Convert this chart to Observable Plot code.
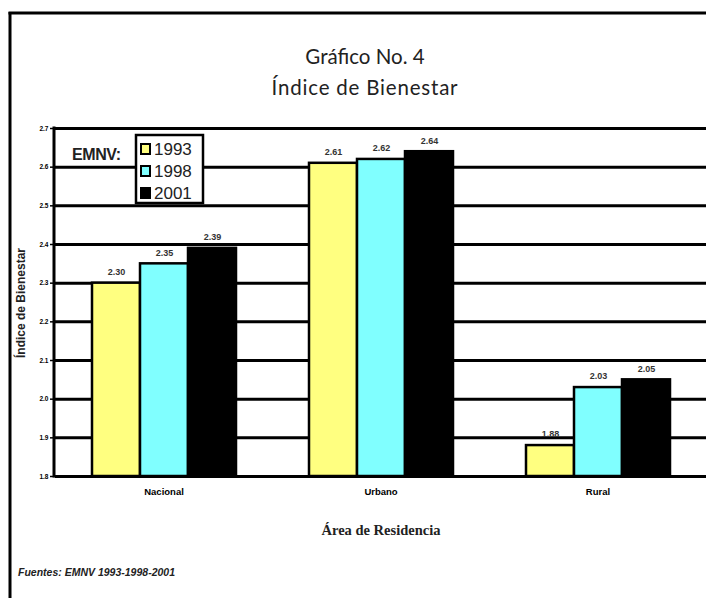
<!DOCTYPE html>
<html>
<head>
<meta charset="utf-8">
<script src="https://cdn.jsdelivr.net/npm/d3@7"></script>
<script src="https://cdn.jsdelivr.net/npm/@observablehq/plot@0.6"></script>
<style>
  html, body { margin: 0; padding: 0; background: #fff; }
  #chart { width: 706px; height: 598px; overflow: hidden; }
</style>
</head>
<body>
<div id="chart"></div>
<script>
// ---- data ----
const areas = ["Nacional", "Urbano", "Rural"];
const years = ["1993", "1998", "2001"];
const v1993 = [2.30, 2.61, 1.88];
const v1998 = [2.35, 2.62, 2.03];
const v2001 = [2.39, 2.64, 2.05];
const yTicks = [1.8, 1.9, 2.0, 2.1, 2.2, 2.3, 2.4, 2.5, 2.6, 2.7];
const titleText = "Gráfico No. 4";
const subtitleText = "Índice de Bienestar";
const yLabelText = "Índice de Bienestar";
const xLabelText = "Área de Residencia";
const legendTitle = "EMNV:";
const sourceText = "Fuentes: EMNV 1993-1998-2001";

const series = [v1993, v1998, v2001];
const data = [];
areas.forEach((a, i) => years.forEach((y, j) => data.push({area: a, year: y, value: series[j][i]})));

const W = 706, H = 598;
const mL = 54, mT = 128, mB = 122, mR = 0;

const svg = Plot.plot({
  width: W,
  height: H,
  marginLeft: mL,
  marginTop: mT,
  marginBottom: mB,
  marginRight: mR,
  style: {fontFamily: "'Liberation Sans', Arial, sans-serif", background: "#fff", color: "#000"},
  fx: {domain: areas, padding: 0, label: null},
  x: {domain: years, paddingInner: 0, paddingOuter: 0.75, axis: null},
  y: {domain: [1.8, 2.7], label: null},
  color: {domain: years, range: ["#ffff80", "#80ffff", "#000000"]},
  marks: [
    Plot.ruleY(yTicks, {stroke: "#000", strokeWidth: 3}),
    Plot.barY(data, {fx: "area", x: "year", y1: 1.8, y2: "value", fill: "year", stroke: "#000", strokeWidth: 2.5}),
    Plot.text(data, {fx: "area", x: "year", y: "value", text: d => d.value.toFixed(2), dy: -11,
      fontSize: 9, fontWeight: "bold", fill: "#333"}),
    Plot.axisY({ticks: yTicks, tickFormat: d3.format(".1f"), tickSize: 5, tickPadding: 2,
      fontSize: 6.5, fontWeight: "bold", label: null, strokeWidth: 1.5}),
    Plot.axisFx({anchor: "bottom", label: null, tickSize: 0, tickPadding: 12, fontSize: 9.5, fontWeight: "bold"})
  ]
});

document.getElementById("chart").appendChild(svg);

// ---- decorations ----
const s = d3.select(svg);
// outer frame (left and top borders)
s.append("line").attr("x1", 10).attr("x2", 10).attr("y1", 12).attr("y2", H).attr("stroke", "#000").attr("stroke-width", 3);
s.append("line").attr("x1", 8.5).attr("x2", W).attr("y1", 13).attr("y2", 13).attr("stroke", "#000").attr("stroke-width", 3);
// y axis line
s.append("line").attr("x1", mL).attr("x2", mL).attr("y1", mT - 1.5).attr("y2", H - mB + 1.5).attr("stroke", "#000").attr("stroke-width", 3);

// titles
s.append("text").attr("x", 365).attr("y", 64).attr("text-anchor", "middle")
  .attr("font-family", "Lato, 'Open Sans', sans-serif").attr("font-size", 20.5).attr("fill", "#222").text(titleText);
s.append("text").attr("x", 365).attr("y", 95).attr("text-anchor", "middle")
  .attr("font-family", "Lato, 'Open Sans', sans-serif").attr("font-size", 20.5).attr("fill", "#222")
  .attr("letter-spacing", 0.8).text(subtitleText);

// y label
s.append("text").attr("transform", "translate(25,303) rotate(-90)").attr("text-anchor", "middle")
  .attr("font-size", 12).attr("font-weight", "bold").attr("fill", "#222").text(yLabelText);

// x label
s.append("text").attr("x", 381).attr("y", 535).attr("text-anchor", "middle")
  .attr("font-family", "'Liberation Serif', 'DejaVu Serif', serif").attr("font-size", 14.5).attr("font-weight", "bold")
  .attr("fill", "#222").text(xLabelText);

// source
s.append("text").attr("x", 18).attr("y", 576).attr("text-anchor", "start").attr("font-size", 10.5).attr("font-weight", "bold")
  .attr("font-style", "italic").attr("fill", "#222").text(sourceText);

// legend
s.append("text").attr("x", 72).attr("y", 160).attr("text-anchor", "start").attr("font-size", 16).attr("font-weight", "bold")
  .attr("fill", "#222").attr("letter-spacing", -0.4).text(legendTitle);
const lg = s.append("g");
lg.append("rect").attr("x", 136).attr("y", 135).attr("width", 67).attr("height", 68)
  .attr("fill", "#fff").attr("stroke", "#000").attr("stroke-width", 2.5);
const legendColors = ["#ffff80", "#80ffff", "#000000"];
years.forEach((y, i) => {
  const cy = 149 + i * 22;
  lg.append("rect").attr("x", 141).attr("y", cy - 5).attr("width", 9).attr("height", 10)
    .attr("fill", legendColors[i]).attr("stroke", "#000").attr("stroke-width", 2);
  lg.append("text").attr("x", 154).attr("y", cy + 6).attr("text-anchor", "start").attr("font-size", 17).attr("fill", "#222").text(y);
});
</script>
</body>
</html>
